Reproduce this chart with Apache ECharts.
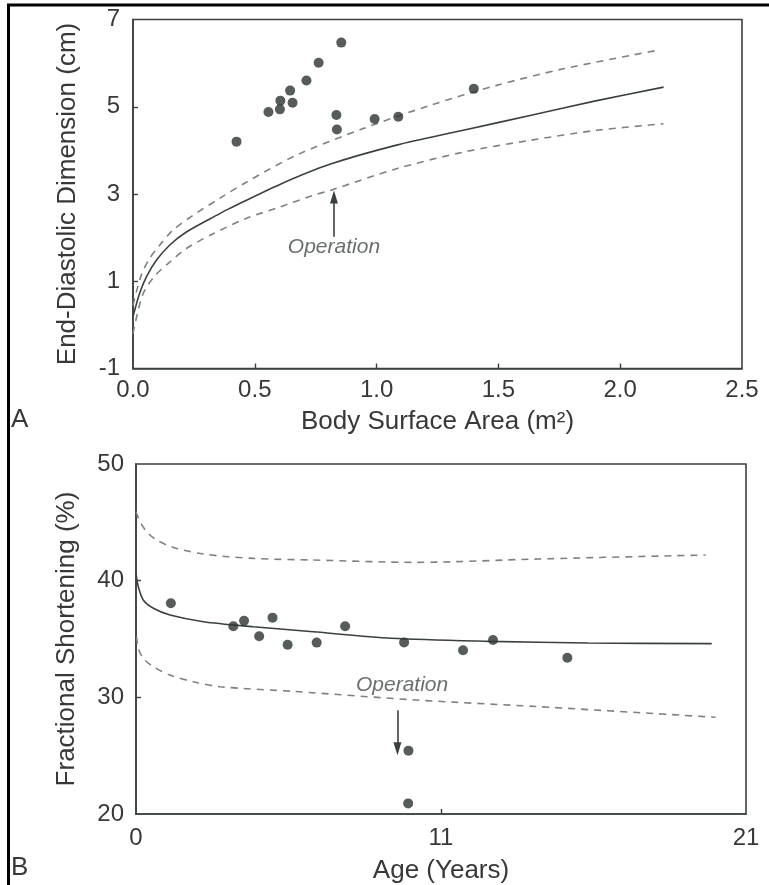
<!DOCTYPE html>
<html>
<head>
<meta charset="utf-8">
<script src="https://cdn.jsdelivr.net/npm/echarts@6/dist/echarts.min.js"></script>
<style>
html,body{margin:0;padding:0;background:#fff;}
#chart{width:769px;height:885px;}
</style>
</head>
<body>
<div id="chart"></div>
<script>
// ---------- Panel A : End-diastolic dimension vs body surface area ----------
const bsaPts = [0.425, 0.556, 0.603, 0.605, 0.645, 0.655, 0.712, 0.762, 0.855, 0.835, 0.837, 0.992, 1.089, 1.399];
const eddPts = [4.20, 4.88, 4.94, 5.14, 5.37, 5.09, 5.60, 6.01, 6.47, 4.81, 4.48, 4.72, 4.77, 5.41];

const bsaMeanX = [0, 0.027, 0.055, 0.096, 0.151, 0.219, 0.356, 0.397, 0.603, 0.808, 1.082, 1.356, 1.630, 1.904, 2.178];
const bsaMeanY = [0.19, 0.72, 1.10, 1.48, 1.83, 2.13, 2.55, 2.67, 3.22, 3.68, 4.12, 4.46, 4.80, 5.14, 5.45];

const bsaUpperX = [0, 0.034, 0.068, 0.110, 0.164, 0.246, 0.356, 0.465, 0.671, 0.945, 1.219, 1.493, 1.767, 2.150];
const bsaUpperY = [0.45, 1.14, 1.52, 1.83, 2.17, 2.51, 2.90, 3.27, 3.89, 4.50, 5.03, 5.49, 5.87, 6.29];

const bsaLowerX = [0, 0.039, 0.086, 0.151, 0.219, 0.329, 0.465, 0.602, 0.739, 0.808, 1.082, 1.356, 1.630, 1.904, 2.178];
const bsaLowerY = [-0.20, 0.68, 1.10, 1.44, 1.75, 2.09, 2.44, 2.70, 2.97, 3.08, 3.58, 3.96, 4.23, 4.46, 4.61];

const opArrowA = [[0.825, 2.02], [0.825, 2.93]];
const opTextA = [0.825, 1.79];

const aXTicks = [0, 0.5, 1.0, 1.5, 2.0, 2.5];
const aYTicks = [-1, 1, 3, 5, 7];

// ---------- Panel B : Fractional shortening vs age ----------
const agePts = [1.20, 3.35, 3.72, 4.24, 4.70, 5.22, 6.22, 7.20, 9.23, 11.26, 12.29, 14.85, 9.38, 9.37];
const fsPts  = [38.06, 36.09, 36.57, 35.23, 36.83, 34.51, 34.69, 36.09, 34.71, 34.03, 34.91, 33.40, 25.43, 20.91];

const ageMeanX = [0, 0.08, 0.25, 0.60, 1.17, 2.32, 4.04, 6.10, 8.79, 12.17, 15.56, 19.82];
const ageMeanY = [40.6, 39.48, 38.34, 37.63, 37.05, 36.48, 36.05, 35.62, 35.06, 34.80, 34.66, 34.60];

const ageUpperX = [0, 0.14, 0.37, 0.71, 1.29, 2.32, 4.04, 6.10, 9.64, 13.86, 19.61];
const ageUpperY = [45.9, 45.05, 44.19, 43.48, 42.85, 42.28, 41.91, 41.77, 41.57, 41.86, 42.2];

const ageLowerX = [0.02, 0.08, 0.25, 0.60, 1.17, 1.97, 2.89, 5.41, 9.64, 13.86, 19.95];
const ageLowerY = [35.19, 34.2, 33.34, 32.62, 31.91, 31.34, 30.91, 30.51, 29.77, 29.2, 28.29];

const opArrowB = [[9.0, 28.9], [9.0, 25.6]];
const opTextB = [9.16, 31.05];

const bXTickPos = [0, 10.5, 21];
const bXTickLabels = ['0', '11', '21'];
const bYTicks = [20, 30, 40, 50];

// ---------- build ----------
const zip = (xs, ys) => xs.map((x, i) => [x, ys[i]]);
const FONT = 'Liberation Sans';
const AX = '#3b4141';
const TXT = '#383838';
const DOT = '#2c3333';
const DASH = '#7c8282';

function axisBase() {
  return {
    axisLine: { show: true, onZero: false, lineStyle: { color: AX, width: 1.6 } },
    axisTick: { show: true, inside: true, length: 5, lineStyle: { color: AX, width: 1.4 } },
    splitLine: { show: false },
    axisLabel: { color: TXT, fontFamily: FONT, fontSize: 24 },
    nameTextStyle: { color: TXT, fontFamily: FONT, fontSize: 26 },
    nameLocation: 'middle'
  };
}

function lineSeries(xi, yi, data, dashed) {
  return {
    type: 'line', xAxisIndex: xi, yAxisIndex: yi, data: data,
    showSymbol: false, symbol: 'none', smooth: 0.3, silent: true,
    lineStyle: dashed ? { color: DASH, width: 1.6, type: [7, 6] } : { color: '#3a4040', width: 1.6 },
    z: 2
  };
}

function arrowSeries(xi, yi, seg, textPt) {
  return {
    type: 'scatter', xAxisIndex: xi, yAxisIndex: yi, silent: true,
    data: [textPt], symbolSize: 2, itemStyle: { color: 'rgba(0,0,0,0)' },
    label: { show: true, position: 'inside', formatter: 'Operation', fontStyle: 'italic',
             fontFamily: FONT, fontSize: 21, color: '#424848' },
    markLine: {
      silent: true, animation: false,
      symbol: ['none', 'triangle'], symbolSize: [8, 13],
      label: { show: false },
      lineStyle: { color: '#3a4040', width: 1.6, type: 'solid' },
      data: [[{ coord: seg[0] }, { coord: seg[1] }]]
    },
    z: 3
  };
}

const chart = echarts.init(document.getElementById('chart'), null, { renderer: 'canvas' });

const option = {
  animation: false,
  backgroundColor: '#ffffff',
  grid: [
    { left: 133, top: 19.5, width: 609, height: 349, show: true, borderColor: AX, borderWidth: 1.6, backgroundColor: 'transparent' },
    { left: 136, top: 464, width: 610, height: 350, show: true, borderColor: AX, borderWidth: 1.6, backgroundColor: 'transparent' }
  ],
  xAxis: [
    Object.assign(axisBase(), {
      gridIndex: 0, type: 'value', min: 0, max: 2.5, interval: 0.5,
      name: 'Body Surface Area (m²)', nameGap: 40,
      axisLabel: Object.assign(axisBase().axisLabel, {
        margin: 10, customValues: aXTicks, formatter: v => v.toFixed(1)
      }),
      axisTick: Object.assign(axisBase().axisTick, { customValues: aXTicks.slice(1, -1) })
    }),
    Object.assign(axisBase(), {
      gridIndex: 1, type: 'value', min: 0, max: 21,
      name: 'Age (Years)', nameGap: 44,
      axisLabel: Object.assign(axisBase().axisLabel, {
        margin: 12, customValues: bXTickPos,
        formatter: v => bXTickLabels[bXTickPos.indexOf(v)]
      }),
      axisTick: Object.assign(axisBase().axisTick, { customValues: [bXTickPos[1]] })
    })
  ],
  yAxis: [
    Object.assign(axisBase(), {
      gridIndex: 0, type: 'value', min: -1, max: 7,
      name: 'End-Diastolic Dimension (cm)', nameGap: 52,
      axisLabel: Object.assign(axisBase().axisLabel, { margin: 13, customValues: aYTicks }),
      axisTick: Object.assign(axisBase().axisTick, { customValues: aYTicks.slice(1, -1) })
    }),
    Object.assign(axisBase(), {
      gridIndex: 1, type: 'value', min: 20, max: 50, interval: 10,
      name: 'Fractional Shortening (%)', nameGap: 56,
      axisLabel: Object.assign(axisBase().axisLabel, { margin: 12, customValues: bYTicks }),
      axisTick: Object.assign(axisBase().axisTick, { customValues: bYTicks.slice(1, -1) })
    })
  ],
  series: [
    lineSeries(0, 0, zip(bsaUpperX, bsaUpperY), true),
    lineSeries(0, 0, zip(bsaLowerX, bsaLowerY), true),
    lineSeries(0, 0, zip(bsaMeanX, bsaMeanY), false),
    {
      type: 'scatter', xAxisIndex: 0, yAxisIndex: 0, data: zip(bsaPts, eddPts),
      symbol: 'circle', symbolSize: 10, itemStyle: { color: DOT }, z: 4
    },
    arrowSeries(0, 0, opArrowA, opTextA),

    lineSeries(1, 1, zip(ageUpperX, ageUpperY), true),
    lineSeries(1, 1, zip(ageLowerX, ageLowerY), true),
    lineSeries(1, 1, zip(ageMeanX, ageMeanY), false),
    {
      type: 'scatter', xAxisIndex: 1, yAxisIndex: 1, data: zip(agePts, fsPts),
      symbol: 'circle', symbolSize: 10, itemStyle: { color: DOT }, z: 4
    },
    arrowSeries(1, 1, opArrowB, opTextB)
  ],
  graphic: [
    { type: 'line', shape: { x1: 7, y1: 5, x2: 769, y2: 5 }, style: { stroke: '#000', lineWidth: 3 }, silent: true },
    { type: 'line', shape: { x1: 8.5, y1: 4, x2: 8.5, y2: 885 }, style: { stroke: '#000', lineWidth: 3 }, silent: true },
    { type: 'text', left: 11, top: 407, style: { text: 'A', font: '26px "Liberation Sans"', fill: TXT }, silent: true },
    { type: 'text', left: 11, top: 855, style: { text: 'B', font: '26px "Liberation Sans"', fill: TXT }, silent: true }
  ]
};

chart.setOption(option);
</script>
</body>
</html>
